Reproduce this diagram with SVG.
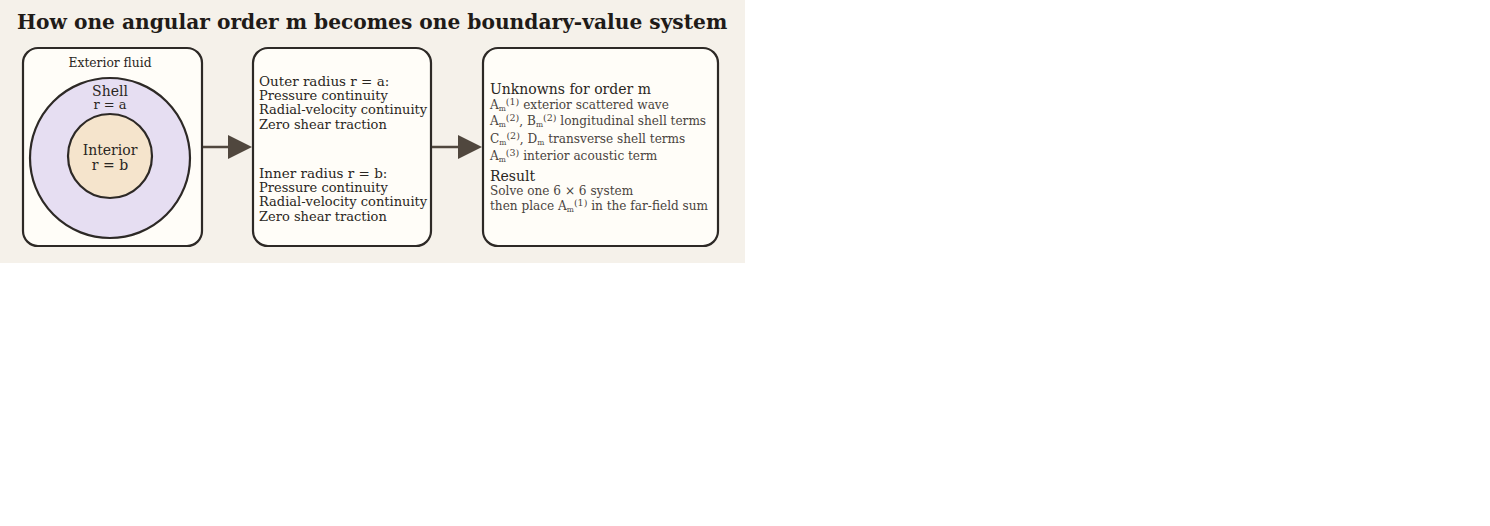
<svg xmlns="http://www.w3.org/2000/svg" width="1490" height="526" viewBox="0 0 1490 526">
<defs>
<style>
.t{font-family:"DejaVu Serif","Liberation Serif",serif;fill:#2a2622}
.title{font-size:20.2px;font-weight:bold;fill:#1f1b18}
.box{fill:#fffdf8;stroke:#2d2926;stroke-width:2.2}
.h{font-size:14px}
.h2{font-size:13.5px}
.s{font-size:13px}
.g{font-size:12.1px;fill:#4a443e}
.sub{font-size:7.5px}
.sup{font-size:9.5px}
.conn{stroke:#50473e;stroke-width:2.5;fill:none}
</style>
<marker id="ah" markerUnits="userSpaceOnUse" markerWidth="26" markerHeight="26" refX="0" refY="12" orient="auto">
<path d="M0,0 L24,12 L0,24 Z" fill="#50473e"/>
</marker>
</defs>
<rect x="0" y="0" width="745" height="263" fill="#f5f1ea"/>
<text class="t title" x="17" y="29">How one angular order m becomes one boundary-value system</text>
<g id="geometry">
<rect class="box" x="23" y="48" width="179" height="198" rx="15"/>
<text class="t" x="110" y="67" text-anchor="middle" font-size="12.3">Exterior fluid</text>
<circle cx="110" cy="158" r="80" fill="#e6def2" stroke="#2d2926" stroke-width="2.2"/>
<text class="t h" x="110" y="96" text-anchor="middle">Shell</text>
<text class="t s" x="110" y="109" text-anchor="middle" font-size="12.5">r = a</text>
<circle cx="110" cy="156" r="42" fill="#f5e4cc" stroke="#2d2926" stroke-width="2.2"/>
<text class="t h" x="110" y="155" text-anchor="middle">Interior</text>
<text class="t h" x="110" y="170" text-anchor="middle">r = b</text>
</g>
<g id="conditions">
<rect class="box" x="253" y="48" width="178" height="198" rx="15"/>
<text class="t h2" x="259" y="86">Outer radius r = a:</text>
<text class="t s" x="259" y="100">Pressure continuity</text>
<text class="t s" x="259" y="114">Radial-velocity continuity</text>
<text class="t s" x="259" y="129">Zero shear traction</text>
<text class="t h2" x="259" y="178">Inner radius r = b:</text>
<text class="t s" x="259" y="192">Pressure continuity</text>
<text class="t s" x="259" y="206">Radial-velocity continuity</text>
<text class="t s" x="259" y="221">Zero shear traction</text>
</g>
<g id="unknowns">
<rect class="box" x="483" y="48" width="235" height="198" rx="15"/>
<text class="t h" x="490" y="94">Unknowns for order m</text>
<text class="t g" x="490" y="109">A<tspan class="sub" dy="2">m</tspan><tspan class="sup" dy="-6">(1)</tspan><tspan dy="4"> exterior scattered wave</tspan></text>
<text class="t g" x="490" y="125">A<tspan class="sub" dy="2">m</tspan><tspan class="sup" dy="-6">(2)</tspan><tspan dy="4">, B</tspan><tspan class="sub" dy="2">m</tspan><tspan class="sup" dy="-6">(2)</tspan><tspan dy="4"> longitudinal shell terms</tspan></text>
<text class="t g" x="490" y="143">C<tspan class="sub" dy="2">m</tspan><tspan class="sup" dy="-6">(2)</tspan><tspan dy="4">, D</tspan><tspan class="sub" dy="2">m</tspan><tspan dy="-2"> transverse shell terms</tspan></text>
<text class="t g" x="490" y="160">A<tspan class="sub" dy="2">m</tspan><tspan class="sup" dy="-6">(3)</tspan><tspan dy="4"> interior acoustic term</tspan></text>
<text class="t h" x="490" y="181">Result</text>
<text class="t g" x="490" y="195">Solve one 6 × 6 system</text>
<text class="t g" x="490" y="210">then place A<tspan class="sub" dy="2">m</tspan><tspan class="sup" dy="-6">(1)</tspan><tspan dy="4"> in the far-field sum</tspan></text>
</g>
<g id="connectors">
<line class="conn" x1="203" y1="147" x2="228" y2="147" marker-end="url(#ah)"/>
<line class="conn" x1="432" y1="147" x2="458" y2="147" marker-end="url(#ah)"/>
</g>
</svg>
